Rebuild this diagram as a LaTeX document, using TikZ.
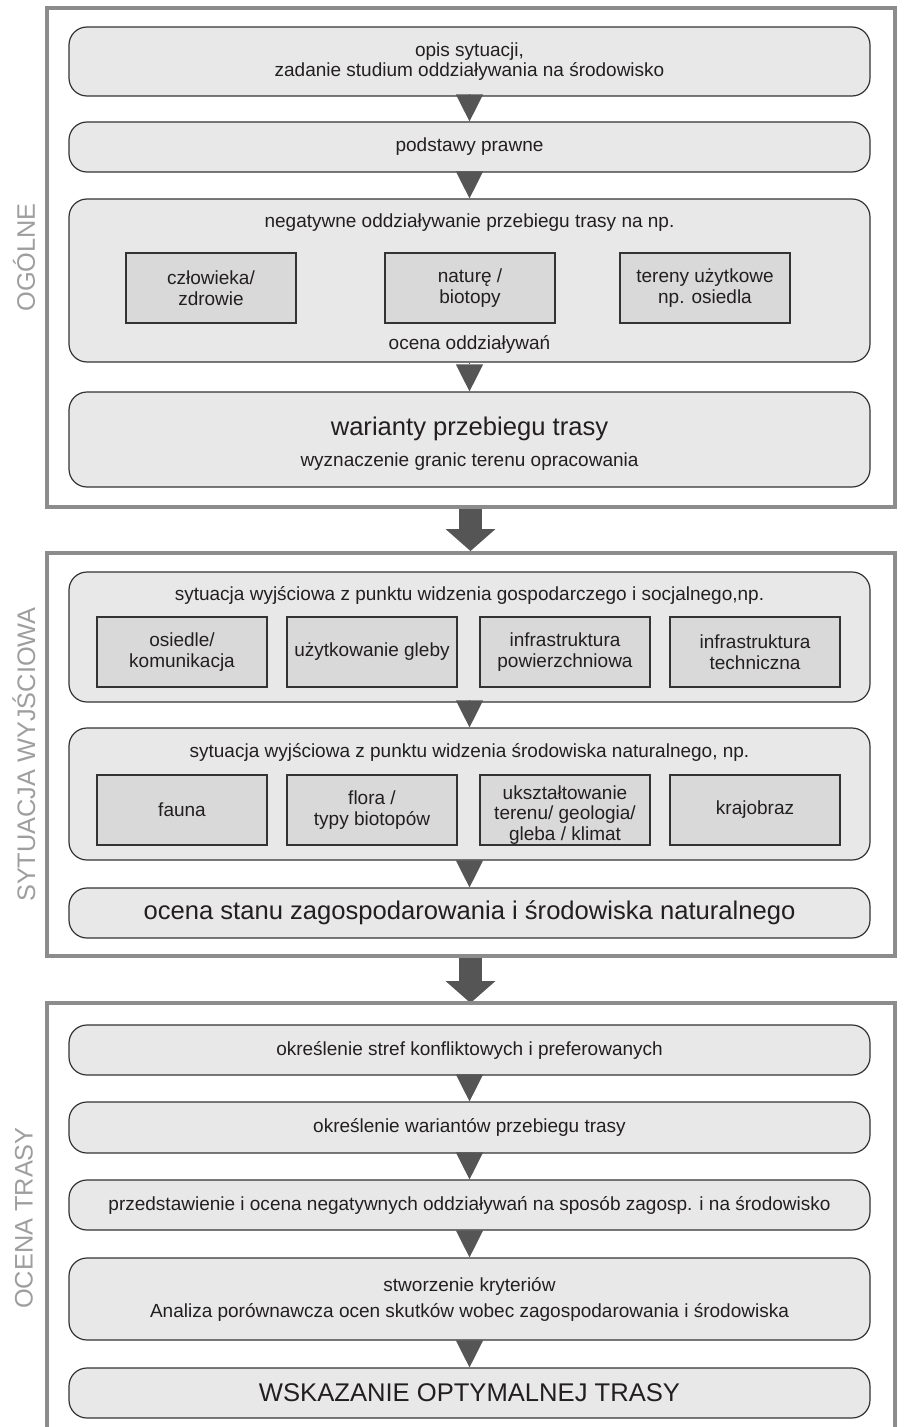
\documentclass[tikz,border=0pt]{standalone}
\usepackage{fontspec}
\setmainfont{Liberation Sans}
\usetikzlibrary{arrows.meta}
\definecolor{boxfill}{HTML}{E8E8E9}
\definecolor{subfill}{HTML}{D9D9DA}
\definecolor{boxline}{HTML}{333333}
\definecolor{framegray}{HTML}{8C8C8C}
\definecolor{arrowgray}{HTML}{555555}
\definecolor{labelgray}{HTML}{9E9E9E}
\definecolor{textcol}{HTML}{231F20}
\begin{document}
\begin{tikzpicture}[x=0.75pt, y=-0.75pt,
frm/.style={draw=framegray, line width=3pt, inner sep=0pt, minimum width=636pt},
rbox/.style={draw=boxline, fill=boxfill, line width=0.9pt, rounded corners=13.5pt, minimum width=600.75pt, inner sep=0pt, text=textcol, align=center, font=\fontsize{14.25pt}{15.5pt}\selectfont},
sbox/.style={draw=boxline, fill=subfill, line width=0.9pt, minimum width=127.5pt, minimum height=52.5pt, inner sep=0pt, text=textcol, align=center, font=\fontsize{14.25pt}{15.5pt}\selectfont},
txt/.style={inner sep=0pt, text=textcol, align=center, font=\fontsize{14.25pt}{15.5pt}\selectfont},
bigtxt/.style={font=\fontsize{19.2pt}{22pt}\selectfont},
side/.style={rotate=90, inner sep=0pt, text=labelgray, font=\fontsize{19pt}{22pt}\selectfont},
tri/.style={draw=arrowgray, line width=1pt, -{Triangle[width=20.5pt, length=20.25pt, line width=0pt]}},
bigarr/.style={draw=arrowgray, line width=17.25pt, -{Triangle[width=37.5pt, length=16.5pt, line width=0pt]}}]
\useasboundingbox (0,0) rectangle (903,1427);
\node[frm, minimum height=374.25pt] (frm1) at (470.5,257.5){};
\node[frm, minimum height=302.25pt] (frm2) at (470.5,754.5){};
\node[frm, draw=none, outer sep=0pt, minimum height=318pt] (frm3) at (470.5,1215){};
\node[side] (lab1) at (24,257.5){OGÓLNE};
\node[side] (lab2) at (24,754.5){SYTUACJA WYJŚCIOWA};
\node[side] (lab3) at (24,1218){OCENA TRASY};
\node[rbox, minimum height=51.75pt] (ogl0) at (469.5,61.5){opis sytuacji,\\zadanie studium oddziaływania na środowisko};
\node[rbox, minimum height=37.5pt] (ogl1) at (469.5,147){podstawy prawne};
\node[rbox, minimum height=122.25pt] (ogl2) at (469.5,280.5){};
\node[txt] (ogl2t) at (469.5,223){negatywne oddziaływanie przebiegu trasy na np.};
\node[sbox] (ogl2a) at (211,288){człowieka/\\zdrowie};
\node[sbox] (ogl2b) at (470,288){naturę /\\biotopy};
\node[sbox] (ogl2c) at (705,288){tereny użytkowe\\np. osiedla};
\node[txt] (ogl2o) at (469.5,344){ocena oddziaływań};
\node[rbox, minimum height=71.25pt] (ogl3) at (469.5,439.5){};
\node[txt, bigtxt] (ogl3t) at (469.5,429){warianty przebiegu trasy};
\node[txt] (ogl3s) at (469.5,462){wyznaczenie granic terenu opracowania};
\node[rbox, minimum height=97.5pt] (syt0) at (469.5,637){};
\node[txt] (syt0t) at (469.5,595){sytuacja wyjściowa z punktu widzenia gospodarczego i socjalnego,np.};
\node[sbox] (syt0a) at (182,652){osiedle/\\komunikacja};
\node[sbox] (syt0b) at (372,652){użytkowanie gleby};
\node[sbox] (syt0c) at (565,652){infrastruktura\\powierzchniowa};
\node[sbox] (syt0d) at (755,652){infrastruktura\\techniczna};
\node[rbox, minimum height=99pt] (syt1) at (469.5,794){};
\node[txt] (syt1t) at (469.5,752){sytuacja wyjściowa z punktu widzenia środowiska naturalnego, np.};
\node[sbox] (syt1a) at (182,810){fauna};
\node[sbox] (syt1b) at (372,810){flora /\\typy biotopów};
\node[sbox] (syt1c) at (565,810){};
\node[txt] (syt1ct) at (565,815){ukształtowanie\\terenu/ geologia/\\gleba / klimat};
\node[sbox] (syt1d) at (755,810){krajobraz};
\node[rbox, bigtxt, minimum height=37.5pt] (syt2) at (469.5,913){ocena stanu zagospodarowania i środowiska naturalnego};
\node[rbox, minimum height=37.5pt] (oce0) at (469.5,1050){określenie stref konfliktowych i preferowanych};
\node[rbox, minimum height=38.25pt] (oce1) at (469.5,1127.5){określenie wariantów przebiegu trasy};
\node[rbox, minimum height=37.5pt] (oce2) at (469.5,1205){przedstawienie i ocena negatywnych oddziaływań na sposób zagosp. i na środowisko};
\node[rbox, minimum height=61.5pt] (oce3) at (469.5,1299){stworzenie kryteriów\\[4pt]Analiza porównawcza ocen skutków wobec zagospodarowania i środowiska};
\node[rbox, bigtxt, minimum height=37.5pt] (oce4) at (469.5,1393){WSKAZANIE OPTYMALNEJ TRASY};
\draw[tri](ogl0) -- (ogl1);
\draw[tri](ogl1) -- (ogl2);
\draw[tri](ogl2) -- (ogl3);
\draw[tri](syt0) -- (syt1);
\draw[tri](syt1) -- (syt2);
\draw[tri](oce0) -- (oce1);
\draw[tri](oce1) -- (oce2);
\draw[tri](oce2) -- (oce3);
\draw[tri](oce3) -- (oce4);
\draw[bigarr](frm1) -- (frm2);
\draw[bigarr](frm2) -- (frm3);
\draw[draw=framegray, line width=3pt](frm3.south west) -- (frm3.north west) -- (frm3.north east) -- (frm3.south east);
\end{tikzpicture}
\end{document}
